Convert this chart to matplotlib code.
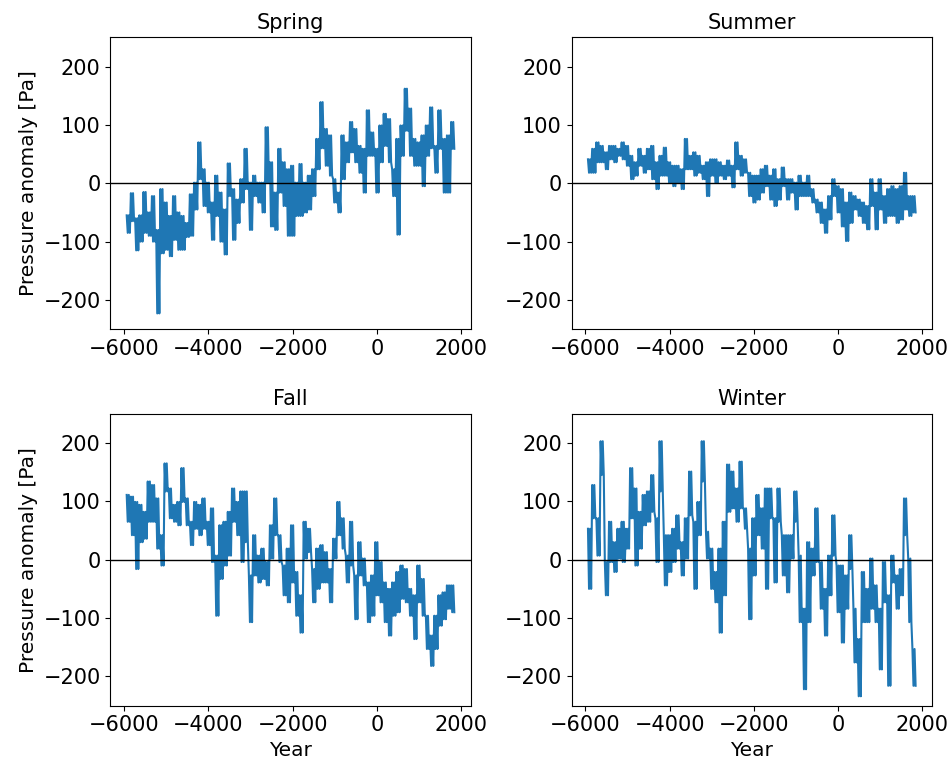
import numpy as np
import matplotlib
matplotlib.use("Agg")
import matplotlib.pyplot as plt

# century bins (upper / lower edge of the noisy trace)
years = list(range(-5900, 1801, 100))

spring_upper = [-55, -17, -60, -55, -15, -50, -22, -80, -10, -33,
                -56, -22, -50, -56, -68, -19, 1, 70, 24, 1,
                -33, 13, -16, -45, 34, -10, -28, 7, 59, 1,
                13, 1, 1, 96, 36, -16, 59, 36, 24, 30,
                1, 33, 1, 13, 24, 76, 139, 93, 82, 7,
                -16, 82, 70, 105, 93, 64, 59, 125, 87, 59,
                99, 119, 110, 24, 76, 99, 162, 128, 76, 70,
                82, 99, 130, 64, 125, 76, 82, 105]
spring_lower = [-85, -65, -115, -100, -85, -90, -100, -223, -120, -114,
                -125, -97, -114, -114, -92, -90, -45, 7, -39, -50,
                -97, -56, -100, -122, -22, -97, -68, -33, -10, -80,
                -22, -33, -50, 1, -74, -80, -16, -39, -90, -90,
                -56, -56, -50, -45, -22, 24, 60, 30, 13, -33,
                -50, 7, 36, 53, 36, 18, -16, 47, 47, -16,
                36, 64, 36, -22, -88, 47, 90, 47, 30, 30,
                -5, 47, 60, 18, 59, -16, -16, 59]

summer_upper = [41, 59, 70, 64, 53, 64, 64, 59, 70, 64,
                47, 36, 59, 47, 59, 64, 36, 47, 61, 36,
                30, 30, 24, 76, 47, 53, 47, 30, 36, 41,
                41, 36, 30, 39, 30, 70, 47, 41, 18, 13,
                13, 24, 30, 13, 24, 7, 27, 7, 7, 1,
                13, 1, 13, -10, -28, -33, -45, -22, 7, -5,
                -10, -33, -16, -22, -28, -33, -39, 7, -16, 7,
                -22, -10, -5, -10, -5, 18, -22, -22]
summer_lower = [18, 18, 36, 36, 24, 41, 36, 47, 41, 30,
                7, 13, 30, 18, 24, 7, -10, 13, 13, 1,
                -5, 1, -10, 24, 24, 13, 18, 7, -22, 13,
                1, 13, 7, 13, -7, 24, 13, 18, -22, -33,
                -28, -16, -5, -28, -39, -28, -5, -28, -16, -45,
                -22, -22, -22, -33, -50, -68, -85, -62, -22, -50,
                -74, -99, -68, -45, -56, -68, -79, -39, -79, -45,
                -68, -56, -56, -68, -62, -45, -56, -50]

fall_upper = [111, 108, 99, 94, 82, 134, 128, 105, 42, 165,
              122, 94, 99, 157, 105, 65, 99, 94, 105, 65,
              88, 7, 59, 65, 82, 122, 99, 117, 117, -27,
              42, 7, 19, -4, 59, 105, 42, -10, 19, 59,
              -21, -61, 65, 53, -16, 19, 25, 13, -16, 36,
              99, 71, 7, 65, -27, 30, 2, -39, -27, 30,
              -4, -39, -50, -39, -21, -10, -16, -50, -61, -10,
              -33, -96, -130, -96, -61, -56, -44, -44]
fall_lower = [65, 42, -16, 30, 36, 65, 65, 19, -10, 117,
              71, 65, 59, 99, 59, 25, 53, 42, 53, 25,
              -4, -96, -33, -10, 7, 65, 42, -4, 30, -107,
              -27, -39, -33, -44, 2, 42, -4, -61, -73, -39,
              -96, -125, 2, 13, -73, -50, -39, -39, -73, 2,
              42, 19, -39, -10, -102, -27, -44, -107, -96, -61,
              -73, -107, -130, -96, -90, -67, -73, -96, -136, -73,
              -96, -153, -182, -153, -113, -102, -84, -90]

winter_upper = [53, 128, 71, 203, -4, 65, 30, 53, 65, 53,
                157, 122, 82, 111, 117, 145, 71, 203, 42, 42,
                53, 76, 30, 71, 151, 65, 99, 203, 48, 19,
                -21, 19, 65, 163, 151, 122, 168, 88, 19, 71,
                111, 88, 122, 122, 71, 122, 42, 42, 42, 117,
                7, -84, 30, 19, 88, -4, -50, 7, 76, -10,
                -10, -27, 42, -84, -136, -21, -50, 2, -44, -84,
                -4, -61, 7, -27, -16, 105, 2, -153]
winter_lower = [-50, 71, 7, 145, -61, -4, -21, 2, -4, 19,
                71, -10, 19, 59, 65, 82, -4, 117, -44, -21,
                -4, 19, -27, 2, 76, -50, 42, 134, 2, -50,
                -73, -125, -61, 82, 88, 65, 88, 53, -102, -27,
                42, 19, -50, 71, -39, 65, -27, -56, 2, 65,
                -107, -222, -107, -27, -4, -84, -130, -61, 7, -90,
                -142, -84, -16, -176, -234, -107, -107, -84, -107, -188,
                -73, -216, -39, -84, -61, 42, -107, -216]

seasons = ['Spring', 'Summer', 'Fall', 'Winter']
uppers = [spring_upper, summer_upper, fall_upper, winter_upper]
lowers = [spring_lower, summer_lower, fall_lower, winter_lower]


def zigzag(yrs, up, lo):
    # swing between upper and lower edge inside each century -> dense noisy band
    x, y = [], []
    for yr, u, l in zip(yrs, up, lo):
        x += [yr - 37.5, yr - 12.5, yr + 12.5, yr + 37.5]
        y += [u, l, u, l]
    return np.array(x), np.array(y)


plt.rcParams['font.size'] = 15
plt.rcParams['axes.titlesize'] = 15
plt.rcParams['axes.labelsize'] = 14.5
fig, axes = plt.subplots(2, 2, figsize=(9.51, 7.62), dpi=100)
fig.subplots_adjust(left=0.116, right=0.98, bottom=0.074, top=0.951,
                    wspace=0.28, hspace=0.29)

for ax, name, up, lo in zip(axes.flat, seasons, uppers, lowers):
    x, y = zigzag(years, up, lo)
    ax.plot(x, y, color='tab:blue', lw=1.5)
    ax.axhline(0, color='k', lw=1)
    ax.set_title(name)
    ax.set_ylim(-250, 250)
    ax.set_yticks([-200, -100, 0, 100, 200])
    ax.set_xticks([-6000, -4000, -2000, 0, 2000])

for ax in axes[:, 0]:
    ax.set_ylabel('Pressure anomaly [Pa]')
for ax in axes[1, :]:
    ax.set_xlabel('Year')

fig.savefig('out.png', dpi=100)
